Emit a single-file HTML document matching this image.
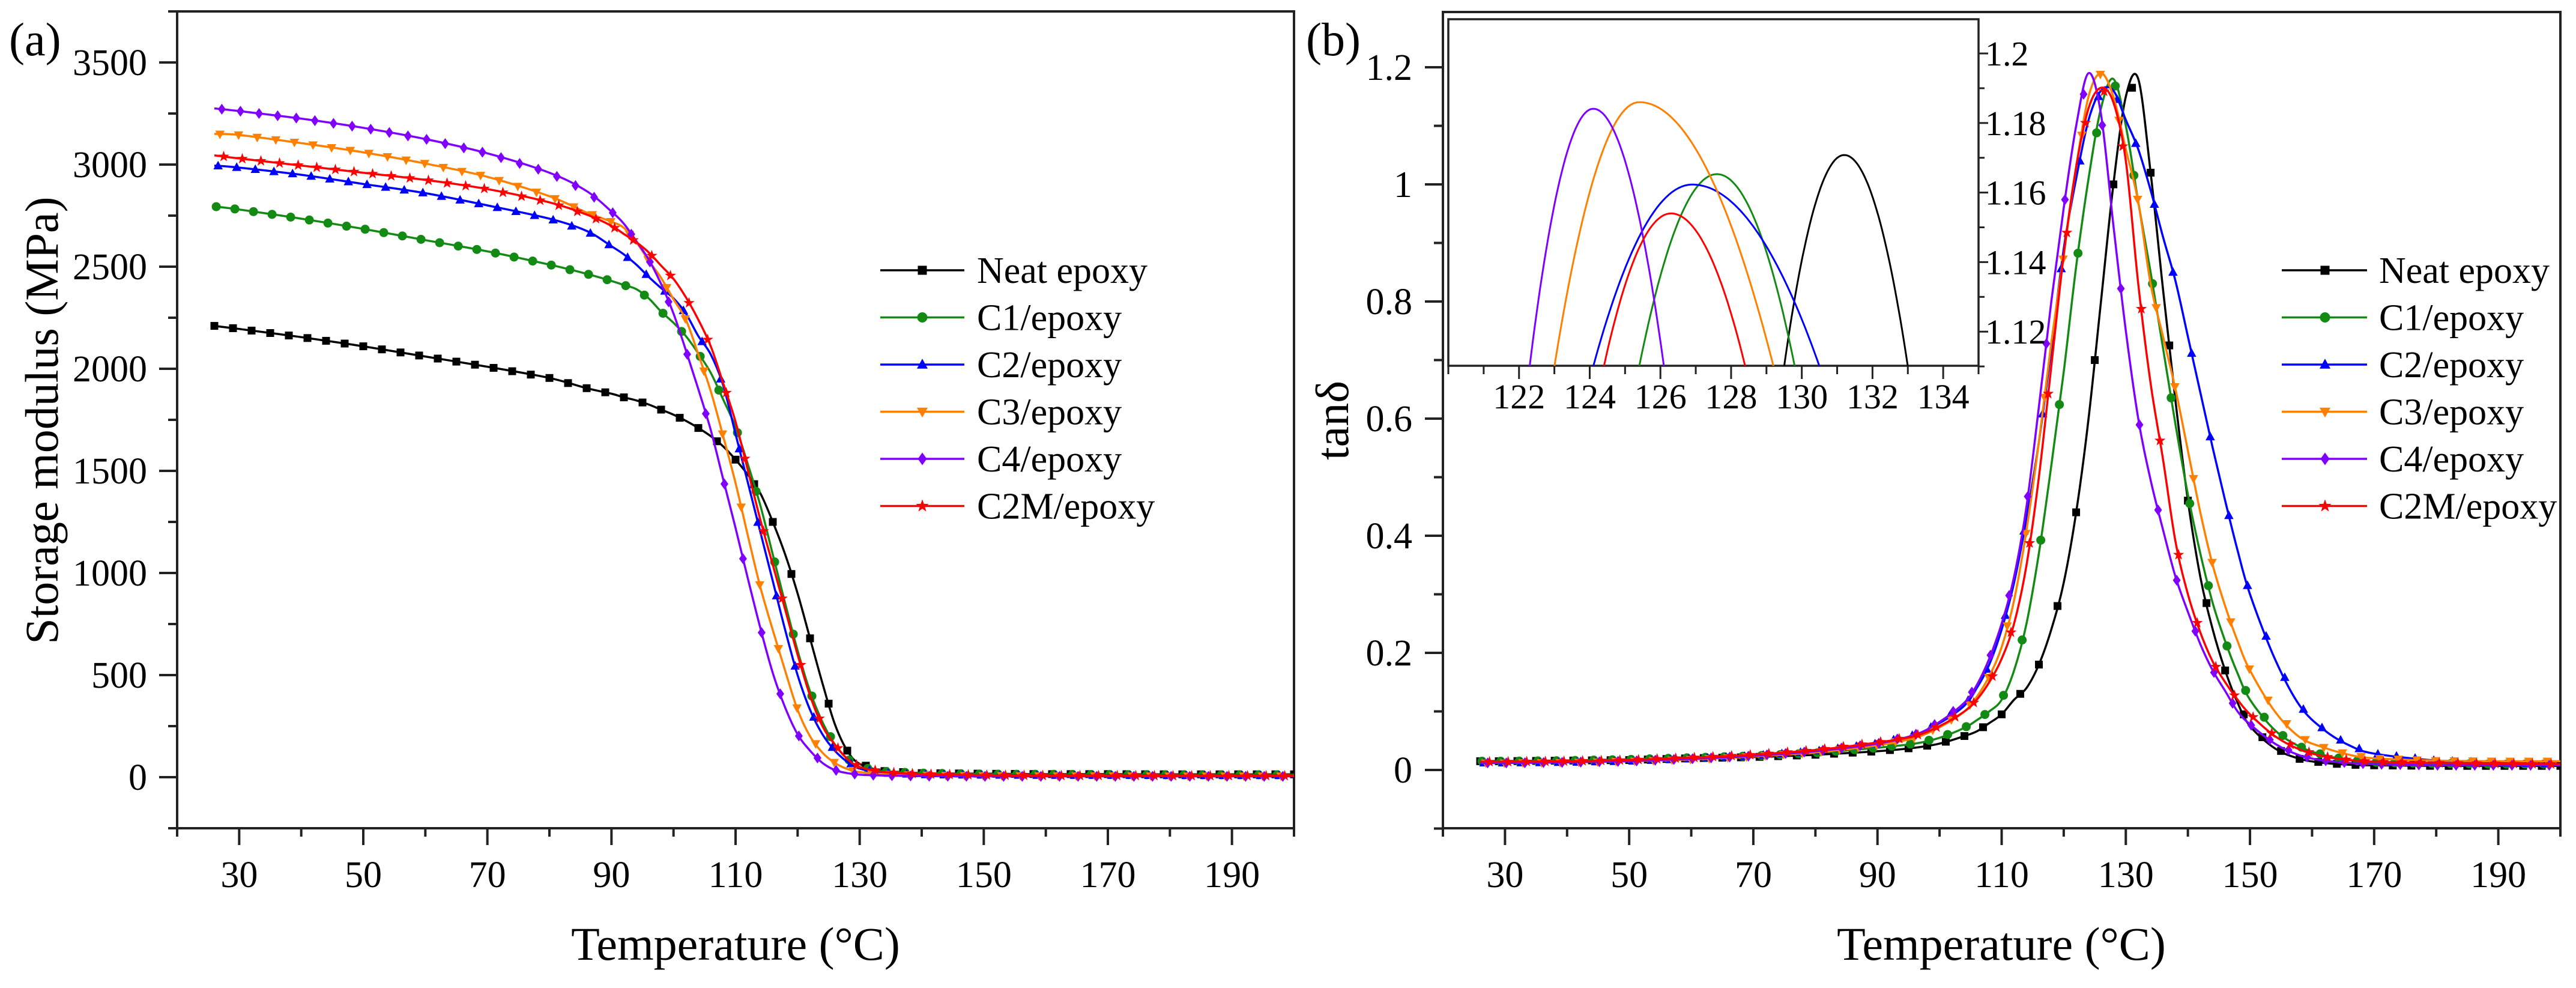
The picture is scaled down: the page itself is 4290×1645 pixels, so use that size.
<!DOCTYPE html>
<html><head><meta charset="utf-8"><style>
html,body{margin:0;padding:0;background:#fff;}
svg, svg text{font-family:"Liberation Serif","Times New Roman",serif;}
</style></head><body>
<svg id="chart" xmlns="http://www.w3.org/2000/svg" width="4290" height="1640" viewBox="0 0 4290 1640" font-family="Liberation Serif, serif">
<defs>
<clipPath id="clipA"><rect x="295" y="19" width="1860" height="1360"/></clipPath>
<clipPath id="clipB"><rect x="2403" y="20" width="1861" height="1359"/></clipPath>
<clipPath id="clipI"><rect x="2412" y="32" width="883" height="577"/></clipPath>
</defs>
<g id="root"></g>
</svg>
<script>
// ---------- DATA ----------
const seriesNames = ["Neat epoxy","C1/epoxy","C2/epoxy","C3/epoxy","C4/epoxy","C2M/epoxy"];
const seriesColors = ["#000000","#138a13","#0000ff","#ff8000","#8000ff","#ff0000"];
const seriesShapes = ["square","circle","tri-up","tri-down","diamond","star"];

// Panel (a) storage modulus
const tempsA = [26,30,40,50,60,70,80,86,90,92,94,96,98,100,102,104,106,108,110,112,114,116,118,120,122,124,126,128,130,134,140,150,160,170,180,190,200];
const modNeat = [2210,2195,2155,2110,2060,2010,1955,1905,1878,1860,1845,1825,1800,1775,1745,1710,1670,1620,1555,1480,1390,1250,1090,900,680,460,260,130,65,30,20,17,15,15,14,14,14];
const modC1 = [2795,2780,2735,2685,2630,2575,2510,2465,2430,2410,2390,2345,2280,2225,2160,2075,1980,1850,1715,1530,1330,1090,850,620,420,270,160,90,50,28,20,15,14,13,12,12,12];
const modC2 = [2995,2985,2950,2905,2860,2800,2735,2675,2600,2560,2510,2450,2395,2345,2270,2160,2070,1920,1680,1440,1200,960,720,500,330,210,130,75,42,20,12,10,9,9,8,8,8];
const modC3 = [3150,3145,3105,3060,3005,2940,2845,2765,2720,2690,2620,2530,2445,2340,2240,2070,1890,1670,1440,1180,930,720,520,330,200,120,70,40,25,15,10,8,7,7,6,6,6];
const modC4 = [3275,3262,3225,3180,3125,3055,2960,2870,2770,2710,2625,2535,2415,2270,2090,1900,1700,1460,1220,970,730,510,340,210,130,70,35,20,12,8,5,4,4,4,4,4,4];
const modC2M = [3045,3030,2995,2960,2925,2880,2815,2755,2700,2660,2620,2570,2505,2440,2350,2240,2110,1930,1740,1500,1260,1040,820,600,400,250,160,90,50,25,15,10,8,8,7,7,7];

// Panel (b) tan delta
const tempsB = [26,30,40,50,60,70,80,90,96,100,104,106,108,110,112,114,116,118,120,122,124,126,128,130,132,134,136,138,140,142,144,146,148,150,154,158,162,166,170,180,190,200];
const tanNeat = [0.015,0.015,0.016,0.017,0.02,0.022,0.026,0.032,0.038,0.045,0.058,0.066,0.08,0.095,0.12,0.14,0.18,0.24,0.32,0.44,0.6,0.8,1.0,1.15,1.18,1.02,0.82,0.63,0.46,0.33,0.24,0.17,0.115,0.075,0.037,0.019,0.012,0.009,0.008,0.007,0.007,0.007];
const tanC1 = [0.015,0.015,0.016,0.018,0.021,0.024,0.029,0.038,0.045,0.055,0.072,0.085,0.1,0.12,0.17,0.25,0.37,0.52,0.68,0.86,1.01,1.13,1.18,1.10,0.97,0.85,0.72,0.59,0.47,0.37,0.285,0.22,0.165,0.12,0.068,0.04,0.025,0.017,0.013,0.011,0.01,0.01];
const tanC2 = [0.012,0.012,0.013,0.015,0.019,0.024,0.032,0.045,0.06,0.08,0.11,0.14,0.18,0.24,0.32,0.43,0.56,0.72,0.89,1.01,1.11,1.16,1.16,1.11,1.06,0.99,0.91,0.835,0.74,0.645,0.55,0.46,0.375,0.30,0.19,0.11,0.068,0.042,0.028,0.016,0.012,0.01];
const tanC3 = [0.012,0.012,0.013,0.015,0.018,0.023,0.03,0.042,0.055,0.073,0.1,0.125,0.16,0.21,0.29,0.41,0.56,0.73,0.88,1.03,1.15,1.19,1.15,1.06,0.97,0.83,0.74,0.65,0.545,0.44,0.35,0.28,0.22,0.17,0.1,0.056,0.038,0.026,0.02,0.016,0.015,0.015];
const tanC4 = [0.012,0.012,0.013,0.015,0.019,0.024,0.032,0.045,0.06,0.082,0.115,0.145,0.19,0.25,0.33,0.45,0.62,0.80,0.96,1.10,1.19,1.12,0.93,0.75,0.6,0.495,0.41,0.33,0.27,0.215,0.17,0.135,0.1,0.078,0.045,0.025,0.016,0.012,0.01,0.008,0.008,0.008];
const tanC2M = [0.014,0.014,0.015,0.017,0.021,0.026,0.034,0.047,0.058,0.075,0.1,0.12,0.15,0.19,0.25,0.35,0.5,0.69,0.88,1.03,1.13,1.165,1.14,1.04,0.83,0.66,0.53,0.39,0.30,0.235,0.185,0.15,0.12,0.095,0.058,0.035,0.023,0.017,0.014,0.012,0.011,0.01];

// Inset peaks (tan delta near maximum)
const insetPeakT = [131.2,127.6,126.9,125.4,124.1,126.3];
const insetPeakV = [1.1708,1.1653,1.1623,1.1860,1.1841,1.1540];
const insetLeftT = [129.5,125.4,124.1,123.0,122.3,124.4];
const insetRightT = [133.0,129.8,130.5,129.2,126.1,128.4];

// Tick labels
const xTickLabels = [30,50,70,90,110,130,150,170,190];
const yTickLabelsA = [0,500,1000,1500,2000,2500,3000,3500];
const yTickLabelsB = ["0","0.2","0.4","0.6","0.8","1","1.2"];
const insetXTickLabels = [122,124,126,128,130,132,134];
const insetYTickLabels = ["1.12","1.14","1.16","1.18","1.2"];

// ---------- SCALES ----------
const NS="http://www.w3.org/2000/svg";
const root=document.getElementById('root');
function el(tag,attrs,parent){const e=document.createElementNS(NS,tag);for(const k in attrs)e.setAttribute(k,attrs[k]);(parent||root).appendChild(e);return e;}
const xA=t=>295+(t-20)*(1860/180);
const yA=v=>1294-v*0.34;
const xB=t=>2403+(t-20)*(1861/180);
const yB=v=>1282-v*975;
const xI=t=>2412+(t-120)*(883/15);
const yI=v=>89+(1.2-v)*5790;

function crPath(pts){
  let d=`M${pts[0][0].toFixed(1)},${pts[0][1].toFixed(1)}`;
  for(let i=0;i<pts.length-1;i++){
    const p0=pts[Math.max(0,i-1)],p1=pts[i],p2=pts[i+1],p3=pts[Math.min(pts.length-1,i+2)];
    const c1=[p1[0]+(p2[0]-p0[0])/6,p1[1]+(p2[1]-p0[1])/6];
    const c2=[p2[0]-(p3[0]-p1[0])/6,p2[1]-(p3[1]-p1[1])/6];
    d+=`C${c1[0].toFixed(1)},${c1[1].toFixed(1)} ${c2[0].toFixed(1)},${c2[1].toFixed(1)} ${p2[0].toFixed(1)},${p2[1].toFixed(1)}`;
  }
  return d;
}
function lerp(ts,vs,t){for(let i=0;i<ts.length-1;i++){if(t>=ts[i]&&t<=ts[i+1]){const f=(t-ts[i])/(ts[i+1]-ts[i]);return vs[i]+f*(vs[i+1]-vs[i]);}}return vs[vs.length-1];}
function marker(shape,cx,cy,color,s,parent){
  let e;
  if(shape==='square')e=el('rect',{x:cx-s/2,y:cy-s/2,width:s,height:s,fill:color},parent);
  else if(shape==='circle')e=el('circle',{cx:cx,cy:cy,r:s/2+1,fill:color},parent);
  else if(shape==='tri-up')e=el('polygon',{points:`${cx},${cy-s*0.65} ${cx-s*0.6},${cy+s*0.45} ${cx+s*0.6},${cy+s*0.45}`,fill:color},parent);
  else if(shape==='tri-down')e=el('polygon',{points:`${cx},${cy+s*0.65} ${cx-s*0.6},${cy-s*0.45} ${cx+s*0.6},${cy-s*0.45}`,fill:color},parent);
  else if(shape==='diamond')e=el('polygon',{points:`${cx},${cy-s*0.7} ${cx+s*0.5},${cy} ${cx},${cy+s*0.7} ${cx-s*0.5},${cy}`,fill:color},parent);
  else {let p=[];for(let k=0;k<10;k++){const r=k%2?s*0.3:s*0.75;const a=-Math.PI/2+k*Math.PI/5;p.push((cx+r*Math.cos(a)).toFixed(1)+','+(cy+r*Math.sin(a)).toFixed(1));}e=el('polygon',{points:p.join(' '),fill:color},parent);}
  return e;
}
function txt(str,x,y,size,anchor,parent,extra){const t=el('text',Object.assign({x:x,y:y,'font-size':size,'font-family':'Liberation Serif, serif','text-anchor':anchor||'start',fill:'#000'},extra||{}),parent);t.textContent=str;return t;}

// ---------- PANEL A ----------
const gA=el('g',{});


const frameA=el('rect',{x:295,y:19,width:1860,height:1360,fill:'none',stroke:'#222','stroke-width':4},gA);


for(let t=20;t<=200;t+=10){const major=(t-30)%20===0;el('line',{x1:xA(t),y1:1379,x2:xA(t),y2:1379+(major?28:14),stroke:'#222','stroke-width':4},gA);}
xTickLabels.forEach(t=>{const e=txt(String(t),xA(t),1477,62,'middle',gA);});
for(let v=-250;v<=3750;v+=250){const major=v%500===0;el('line',{x1:295,y1:yA(v),x2:295-(major?30:15),y2:yA(v),stroke:'#222','stroke-width':4},gA);}
yTickLabelsA.forEach(v=>{const e=txt(String(v),245,yA(v)+21,62,'end',gA);});
const ytA=txt('Storage modulus (MPa)',96,700,78,'middle',gA,{transform:'rotate(-90 96 700)'});

const xtA=txt('Temperature (°C)',1225,1598,78,'middle',gA);

const pa=txt('(a)',15,92,78,'start',gA);


const modSeries=[modNeat,modC1,modC2,modC3,modC4,modC2M];
const plotA=el('g',{'clip-path':'url(#clipA)'},gA);
modSeries.forEach((vals,i)=>{
  const p=el('path',{d:crPath(tempsA.map((t,j)=>[xA(t),yA(vals[j])])),fill:'none',stroke:seriesColors[i],'stroke-width':3.5},plotA);
  
  
  for(let t=26+i*0.3;t<=200;t+=3){const m=marker(seriesShapes[i],xA(t),yA(lerp(tempsA,vals,t)),seriesColors[i],13,plotA);
    
    }
});
seriesNames.forEach((n,i)=>{
  const y=450+78.5*i;
  const g=el('g',{},gA);
  
  
  el('line',{x1:1466,y1:y,x2:1606,y2:y,stroke:seriesColors[i],'stroke-width':3.5},g);
  marker(seriesShapes[i],1536,y,seriesColors[i],15,g);
  txt(n,1627,y+21,62,'start',g);
});

// ---------- PANEL B ----------
const gB=el('g',{});


const frameB=el('rect',{x:2403,y:20,width:1861,height:1359,fill:'none',stroke:'#222','stroke-width':4},gB);


for(let t=20;t<=200;t+=10){const major=(t-30)%20===0;el('line',{x1:xB(t),y1:1379,x2:xB(t),y2:1379+(major?28:14),stroke:'#222','stroke-width':4},gB);}
xTickLabels.forEach(t=>{const e=txt(String(t),xB(t),1477,62,'middle',gB);});
for(let k=-1;k<=12;k++){const v=k/10;const major=k%2===0;el('line',{x1:2403,y1:yB(v),x2:2403-(major?30:15),y2:yB(v),stroke:'#222','stroke-width':4},gB);}
yTickLabelsB.forEach(s=>{const e=txt(s,2352,yB(parseFloat(s))+21,62,'end',gB);});
const ytB=txt('tanδ',2245,700,78,'middle',gB,{transform:'rotate(-90 2245 700)'});

const xtB=txt('Temperature (°C)',3333,1598,78,'middle',gB);

const pb=txt('(b)',2175,92,78,'start',gB);


const tanSeries=[tanNeat,tanC1,tanC2,tanC3,tanC4,tanC2M];
const plotB=el('g',{'clip-path':'url(#clipB)'},gB);
tanSeries.forEach((vals,i)=>{
  const p=el('path',{d:crPath(tempsB.map((t,j)=>[xB(t),yB(vals[j])])),fill:'none',stroke:seriesColors[i],'stroke-width':3.5},plotB);
  
  
  for(let t=26+i*0.3;t<=200;t+=3){const m=marker(seriesShapes[i],xB(t),yB(lerp(tempsB,vals,t)),seriesColors[i],13,plotB);
    
    }
});
seriesNames.forEach((n,i)=>{
  const y=450+78.5*i;
  const g=el('g',{},gB);
  
  
  el('line',{x1:3800,y1:y,x2:3942,y2:y,stroke:seriesColors[i],'stroke-width':3.5},g);
  marker(seriesShapes[i],3872,y,seriesColors[i],15,g);
  txt(n,3962,y+21,62,'start',g);
});

// ---------- INSET ----------
const gI=el('g',{},gB);


el('rect',{x:2412,y:32,width:883,height:577,fill:'#fff',stroke:'#222','stroke-width':3.5},gI);
for(let t=120;t<=135;t+=1){const major=t%2===0&&t>=122;el('line',{x1:xI(t),y1:609,x2:xI(t),y2:609+(major?22:14),stroke:'#222','stroke-width':3},gI);}
insetXTickLabels.forEach(t=>{const e=txt(String(t),xI(t),680,58,'middle',gI);});
for(let k=111;k<=120;k++){const v=k/100;const major=k%2===0;el('line',{x1:3295,y1:yI(v),x2:3295+(major?16:10),y2:yI(v),stroke:'#222','stroke-width':3},gI);}
insetYTickLabels.forEach(s=>{const e=txt(s,3306,yI(parseFloat(s))+20,58,'start',gI);});
const plotI=el('g',{'clip-path':'url(#clipI)'},gI);
insetPeakT.forEach((tp,i)=>{
  const pk=insetPeakV[i],base=1.11;const pts=[];
  const tl=insetLeftT[i]-0.3,tr=insetRightT[i]+0.3;
  for(let k=0;k<=80;k++){const t=tl+(tr-tl)*k/80;const w=t<tp?(tp-insetLeftT[i]):(insetRightT[i]-tp);const u=(t-tp)/w;pts.push([xI(t),yI(pk-(pk-base)*u*u)]);}
  const p=el('path',{d:'M'+pts.map(q=>q[0].toFixed(1)+','+q[1].toFixed(1)).join('L'),fill:'none',stroke:seriesColors[i],'stroke-width':3},plotI);
  
  
});
</script>
</body></html>
